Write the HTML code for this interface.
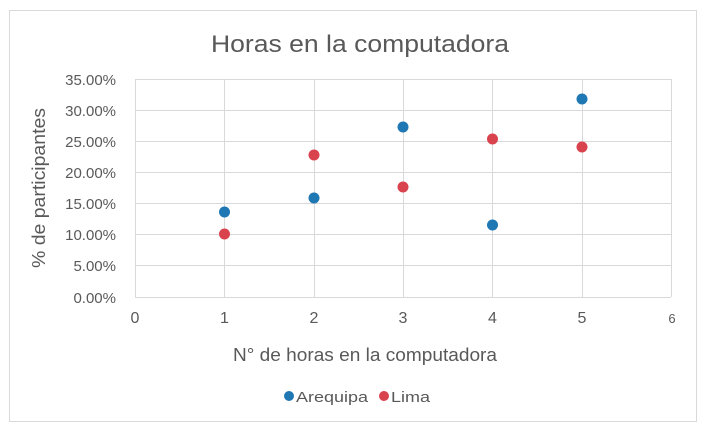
<!DOCTYPE html>
<html><head><meta charset="utf-8"><style>
html,body{margin:0;padding:0;background:#fff;}
svg{display:block;font-family:"Liberation Sans",sans-serif;}
</style></head><body>
<svg width="708" height="431" viewBox="0 0 708 431">
<rect x="0" y="0" width="708" height="431" fill="#fff"/>
<rect x="9.5" y="10.5" width="687" height="411" fill="#fff" stroke="#d9d9d9" stroke-width="1"/>
<text x="360" y="52" text-anchor="middle" font-size="24" fill="#595959" textLength="298" lengthAdjust="spacingAndGlyphs">Horas en la computadora</text>
<g stroke="#d9d9d9" stroke-width="1">
<line x1="135" y1="79.5" x2="671" y2="79.5"/>
<line x1="135" y1="110.5" x2="671" y2="110.5"/>
<line x1="135" y1="141.5" x2="671" y2="141.5"/>
<line x1="135" y1="172.5" x2="671" y2="172.5"/>
<line x1="135" y1="203.5" x2="671" y2="203.5"/>
<line x1="135" y1="234.5" x2="671" y2="234.5"/>
<line x1="135" y1="265.5" x2="671" y2="265.5"/>
<line x1="135" y1="297.5" x2="671" y2="297.5"/>
<line x1="135.5" y1="79" x2="135.5" y2="297"/>
<line x1="224.5" y1="79" x2="224.5" y2="297"/>
<line x1="314.5" y1="79" x2="314.5" y2="297"/>
<line x1="403.5" y1="79" x2="403.5" y2="297"/>
<line x1="492.5" y1="79" x2="492.5" y2="297"/>
<line x1="582.5" y1="79" x2="582.5" y2="297"/>
<line x1="671.5" y1="79" x2="671.5" y2="297"/>
</g>
<g font-size="15" fill="#595959" text-anchor="end">
<text x="116" y="85">35.00%</text>
<text x="116" y="116">30.00%</text>
<text x="116" y="147">25.00%</text>
<text x="116" y="178">20.00%</text>
<text x="116" y="209">15.00%</text>
<text x="116" y="240">10.00%</text>
<text x="116" y="271">5.00%</text>
<text x="116" y="303">0.00%</text>
</g>
<g font-size="16" fill="#595959" text-anchor="middle">
<text x="135" y="323">0</text>
<text x="224.5" y="323">1</text>
<text x="314" y="323">2</text>
<text x="403" y="323">3</text>
<text x="492.5" y="323">4</text>
<text x="582" y="323">5</text>
<text x="672" y="323" font-size="13">6</text>
</g>
<text transform="translate(45,188) rotate(-90)" text-anchor="middle" font-size="18" fill="#595959" textLength="160" lengthAdjust="spacingAndGlyphs">% de participantes</text>
<text x="365" y="361" text-anchor="middle" font-size="18" fill="#595959" textLength="264" lengthAdjust="spacingAndGlyphs">N° de horas en la computadora</text>
<g fill="#1f77b4">
<circle cx="224.5" cy="212" r="5.5"/>
<circle cx="314" cy="198" r="5.5"/>
<circle cx="403" cy="127" r="5.5"/>
<circle cx="492.5" cy="225" r="5.5"/>
<circle cx="582" cy="99" r="5.5"/>
<circle cx="289" cy="396" r="5"/>
</g>
<g fill="#d9434e">
<circle cx="224.5" cy="234" r="5.5"/>
<circle cx="314" cy="155" r="5.5"/>
<circle cx="403" cy="187" r="5.5"/>
<circle cx="492.5" cy="139" r="5.5"/>
<circle cx="582" cy="147" r="5.5"/>
<circle cx="384" cy="396" r="5"/>
</g>
<text x="296" y="402" font-size="15" fill="#595959" textLength="72" lengthAdjust="spacingAndGlyphs">Arequipa</text>
<text x="391" y="402" font-size="15" fill="#595959" textLength="39" lengthAdjust="spacingAndGlyphs">Lima</text>
</svg>
</body></html>
